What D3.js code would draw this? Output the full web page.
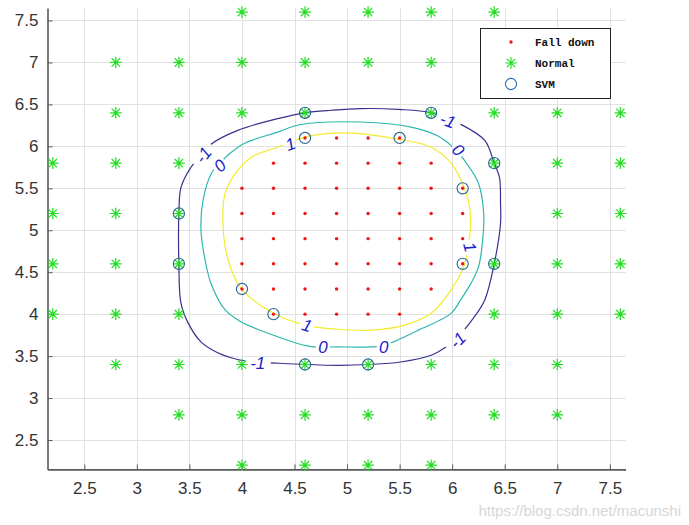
<!DOCTYPE html>
<html><head><meta charset="utf-8">
<script src="https://cdn.jsdelivr.net/npm/d3@7"></script>
<style>body{margin:0;background:#fff}svg{display:block}</style>
</head><body>
<svg id="c" width="689" height="525"></svg>
<script>
// ---- data ----
const xTicks = [2.5,3,3.5,4,4.5,5,5.5,6,6.5,7,7.5];
const yTicks = [2.5,3,3.5,4,4.5,5,5.5,6,6.5,7,7.5];
const fallDown = [
 [4.6,6.1],[4.9,6.1],[5.2,6.1],[5.5,6.1],
 [4.3,5.8],[4.6,5.8],[4.9,5.8],[5.2,5.8],[5.5,5.8],[5.8,5.8],
 [4.0,5.5],[4.3,5.5],[4.6,5.5],[4.9,5.5],[5.2,5.5],[5.5,5.5],[5.8,5.5],[6.1,5.5],
 [4.0,5.2],[4.3,5.2],[4.6,5.2],[4.9,5.2],[5.2,5.2],[5.5,5.2],[5.8,5.2],[6.1,5.2],
 [4.0,4.9],[4.3,4.9],[4.6,4.9],[4.9,4.9],[5.2,4.9],[5.5,4.9],[5.8,4.9],[6.1,4.9],
 [4.0,4.6],[4.3,4.6],[4.6,4.6],[4.9,4.6],[5.2,4.6],[5.5,4.6],[5.8,4.6],[6.1,4.6],
 [4.0,4.3],[4.3,4.3],[4.6,4.3],[4.9,4.3],[5.2,4.3],[5.5,4.3],[5.8,4.3],
 [4.3,4.0],[4.6,4.0],[4.9,4.0],[5.2,4.0],[5.5,4.0]
];
const normal = [
 [4.0,7.6],[4.6,7.6],[5.2,7.6],[5.8,7.6],[6.4,7.6],
 [2.8,7.0],[3.4,7.0],[4.0,7.0],[4.6,7.0],[5.2,7.0],[5.8,7.0],[6.4,7.0],[7.0,7.0],
 [2.8,6.4],[3.4,6.4],[4.0,6.4],[4.6,6.4],[5.8,6.4],[6.4,6.4],[7.0,6.4],[7.6,6.4],
 [2.2,5.8],[2.8,5.8],[3.4,5.8],[6.4,5.8],[7.0,5.8],[7.6,5.8],
 [2.2,5.2],[2.8,5.2],[3.4,5.2],[7.0,5.2],[7.6,5.2],
 [2.2,4.6],[2.8,4.6],[3.4,4.6],[6.4,4.6],[7.0,4.6],[7.6,4.6],
 [2.2,4.0],[2.8,4.0],[3.4,4.0],[6.4,4.0],[7.0,4.0],[7.6,4.0],
 [2.8,3.4],[3.4,3.4],[4.0,3.4],[4.6,3.4],[5.2,3.4],[5.8,3.4],[6.4,3.4],[7.0,3.4],
 [3.4,2.8],[4.0,2.8],[4.6,2.8],[5.2,2.8],[5.8,2.8],[6.4,2.8],[7.0,2.8],
 [4.0,2.2],[4.6,2.2],[5.2,2.2],[5.8,2.2]
];
const svm = [
 [4.6,6.4],[5.8,6.4],[6.4,5.8],[3.4,5.2],[3.4,4.6],[6.4,4.6],[4.6,3.4],[5.2,3.4],
 [4.6,6.1],[5.5,6.1],[6.1,5.5],[6.1,4.6],[4.0,4.3],[4.3,4.0]
];
const contourLevels = [-1, 0, 1];
const contourMinus1 = [[4.60,6.40],[4.85,6.43],[5.13,6.45],[5.49,6.44],[5.80,6.40],[6.07,6.27],[6.31,6.07],[6.40,5.80],[6.45,5.63],[6.46,5.32],[6.46,5.08],[6.40,4.60],[6.31,4.17],[6.20,3.95],[6.04,3.71],[5.93,3.60],[5.80,3.51],[5.51,3.43],[5.20,3.40],[4.93,3.39],[4.60,3.40],[4.28,3.42],[4.13,3.43],[3.96,3.46],[3.77,3.54],[3.61,3.67],[3.49,3.89],[3.42,4.13],[3.40,4.60],[3.40,5.20],[3.42,5.51],[3.51,5.74],[3.61,5.89],[3.70,6.02],[3.96,6.19],[4.34,6.33]];
const contourZero = [[5.13,6.29],[5.61,6.23],[5.87,6.12],[6.04,5.95],[6.13,5.81],[6.25,5.56],[6.30,5.20],[6.29,4.88],[6.25,4.56],[6.18,4.37],[6.08,4.17],[5.99,4.01],[5.68,3.81],[5.44,3.67],[5.32,3.62],[4.91,3.61],[4.63,3.62],[4.32,3.74],[3.99,3.91],[3.84,4.05],[3.71,4.35],[3.65,4.64],[3.61,5.00],[3.63,5.36],[3.71,5.68],[3.77,5.77],[3.89,5.92],[4.03,6.04],[4.34,6.17],[4.56,6.26]];
const contourPlus1 = [[4.98,6.16],[5.51,6.08],[5.80,5.99],[5.99,5.80],[6.12,5.49],[6.17,5.24],[6.17,4.96],[6.15,4.80],[6.12,4.60],[5.99,4.29],[5.80,4.01],[5.55,3.87],[5.23,3.81],[4.91,3.82],[4.60,3.87],[4.30,4.01],[3.99,4.31],[3.87,4.64],[3.82,5.06],[3.84,5.44],[3.94,5.68],[4.09,5.87],[4.34,5.99],[4.44,6.04],[4.60,6.11]];
// contour labels: [level, x, y, angle]
const contourLabels = [
 [-1,3.63,5.90,-52],[-1,5.96,6.31,20],[-1,4.15,3.42,0],[-1,6.05,3.69,-45],
 [0,3.79,5.77,-45],[0,6.06,5.96,45],[0,4.77,3.61,0],[0,5.35,3.61,0],
 [1,4.46,6.03,-20],[1,4.62,3.87,18],[1,6.17,4.80,75]
];
const legendLabels = ["Fall down","Normal","SVM"];
const watermark = "https://blog.csdn.net/macunshi";

// ---- layout ----
const svg = d3.select("#c");
const L = 47.5, R = 625.6, T = 7.9, B = 469.4;
const x = d3.scaleLinear().domain([2.15,7.65]).range([L,R]);
const y = d3.scaleLinear().domain([2.15,7.65]).range([B,T]);
const levelColor = d3.scaleOrdinal().domain(contourLevels).range(["#3b2f8f","#2eb7ae","#f2ec2c"]);

// grid
const grid = svg.append("g").attr("stroke","#e1e1e1").attr("stroke-width",1);
grid.selectAll(".gx").data(xTicks).join("line")
 .attr("x1",d=>Math.round(x(d))+0.5).attr("x2",d=>Math.round(x(d))+0.5).attr("y1",T).attr("y2",B);
grid.selectAll(".gy").data(yTicks).join("line")
 .attr("y1",d=>Math.round(y(d))+0.5).attr("y2",d=>Math.round(y(d))+0.5).attr("x1",L).attr("x2",R);

// axes
const fmt = d=>String(d);
const xAxis = svg.append("g").attr("transform",`translate(0,${B})`)
 .call(d3.axisBottom(x).tickValues(xTicks).tickFormat(fmt).tickSizeInner(-5).tickSizeOuter(0).tickPadding(13));
const yAxis = svg.append("g").attr("transform",`translate(${L},0)`)
 .call(d3.axisLeft(y).tickValues(yTicks).tickFormat(fmt).tickSizeInner(-5).tickSizeOuter(0).tickPadding(9));
[xAxis,yAxis].forEach(a=>{
 a.select(".domain").attr("stroke","#5a5a5a").attr("stroke-width",1.6);
 a.selectAll(".tick line").attr("stroke","#5a5a5a");
 a.selectAll(".tick text").attr("fill","#333").style("font-family","'Liberation Sans',Arial,sans-serif").style("font-size","17px");
});

// contours with label gaps via mask
const defs = svg.append("defs");
const mask = defs.append("mask").attr("id","lblmask").attr("maskUnits","userSpaceOnUse")
 .attr("x",0).attr("y",0).attr("width",689).attr("height",525);
mask.append("rect").attr("width",689).attr("height",525).attr("fill","#fff");
mask.selectAll("rect.g").data(contourLabels).join("rect").attr("class","g")
 .attr("x",d=>d[0]===-1?-13:-7).attr("y",-8).attr("width",d=>d[0]===-1?26:14).attr("height",16)
 .attr("fill","#000")
 .attr("transform",d=>`translate(${x(d[1])},${y(d[2])}) rotate(${d[3]})`);

const line = d3.line().x(d=>x(d[0])).y(d=>y(d[1])).curve(d3.curveCatmullRomClosed.alpha(0.5));
const contours = [[-1,contourMinus1],[0,contourZero],[1,contourPlus1]];
svg.append("g").attr("mask","url(#lblmask)")
 .selectAll("path").data(contours).join("path")
 .attr("d",d=>line(d[1])).attr("fill","none")
 .attr("stroke",d=>levelColor(d[0])).attr("stroke-width",1.2);

svg.append("g").selectAll("text").data(contourLabels).join("text")
 .attr("transform",d=>`translate(${x(d[1])},${y(d[2])}) rotate(${d[3]})`)
 .attr("text-anchor","middle").attr("dy","0.36em")
 .style("font-family","'Liberation Sans',Arial,sans-serif").style("font-size","17px").style("font-style","italic")
 .attr("fill","#1a22c8").text(d=>String(d[0]));

// markers
const s = 5.8, dd = s*0.72;
const starPath = `M0,${-s}L0,${s}M${-s},0L${s},0M${-dd},${-dd}L${dd},${dd}M${-dd},${dd}L${dd},${-dd}`;
svg.append("g").selectAll("path").data(normal).join("path")
 .attr("transform",d=>`translate(${x(d[0])},${y(d[1])})`)
 .attr("d",starPath).attr("stroke","#22dd22").attr("stroke-width",1.2).attr("fill","none");
svg.append("g").selectAll("circle").data(fallDown).join("circle")
 .attr("cx",d=>x(d[0])).attr("cy",d=>y(d[1])).attr("r",1.7).attr("fill","#f01515");
svg.append("g").selectAll("circle").data(svm).join("circle")
 .attr("cx",d=>x(d[0])).attr("cy",d=>y(d[1])).attr("r",5.6)
 .attr("fill","none").attr("stroke","#2a6696").attr("stroke-width",1.1);

// legend
const lg = svg.append("g").attr("transform","translate(480,28)");
lg.append("rect").attr("x",0.5).attr("y",0.5).attr("width",130).attr("height",70)
 .attr("fill","#fff").attr("stroke","#222").attr("stroke-width",1);
const rows = lg.selectAll("g.row").data(legendLabels).join("g").attr("class","row")
 .attr("transform",(d,i)=>`translate(0,${14+i*21})`);
rows.append("text").attr("x",55).attr("dy","0.35em").text(d=>d)
 .style("font-family","'Liberation Mono','DejaVu Sans Mono',monospace").style("font-size","11px").style("font-weight","bold").attr("fill","#111");
rows.filter((d,i)=>i===0).append("circle").attr("cx",31).attr("cy",0).attr("r",1.7).attr("fill","#f01515");
rows.filter((d,i)=>i===1).append("path").attr("transform","translate(31,0)").attr("d",starPath)
 .attr("stroke","#22dd22").attr("stroke-width",1.2).attr("fill","none");
rows.filter((d,i)=>i===2).append("circle").attr("cx",31).attr("cy",0).attr("r",5.6)
 .attr("fill","none").attr("stroke","#2a6ab0").attr("stroke-width",1.1);

// watermark
svg.append("text").attr("x",681).attr("y",516).attr("text-anchor","end")
 .style("font-family","'Liberation Sans',Arial,sans-serif").style("font-size","15px")
 .attr("fill","#d6d6d6").text(watermark);
</script>
</body></html>
